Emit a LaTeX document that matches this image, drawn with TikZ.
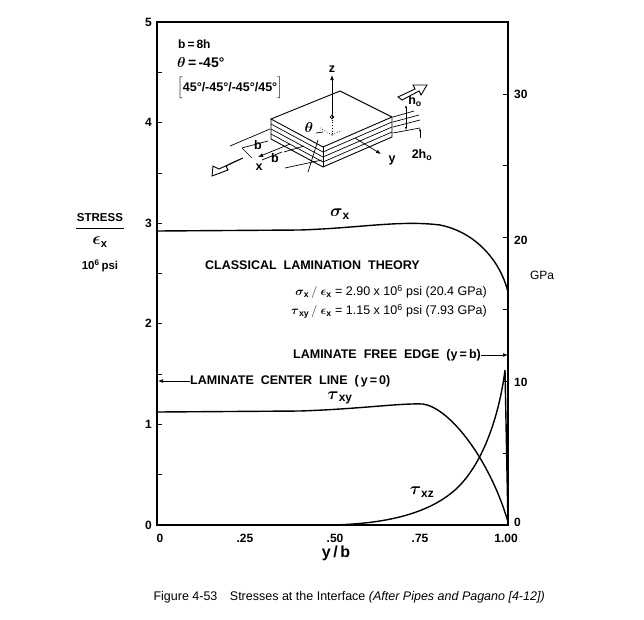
\documentclass[tikz,border=0pt]{standalone}
\usepackage{amsmath}
\usepackage{fontspec}
\setmainfont{Liberation Sans}
\usetikzlibrary{arrows.meta,calc}
\begin{document}
\begin{tikzpicture}[x=1pt,y=-1pt,
  lbl/.style={font=\fontsize{12.5}{14}\selectfont\bfseries,inner sep=0pt},
  num/.style={font=\fontsize{12}{14}\selectfont\bfseries,inner sep=0pt},
  curve/.style={line width=1.4pt},
  frame/.style={line width=1.5pt},
  thin/.style={line width=0.7pt},
  blockarrow/.style={line width=0.9pt,fill=white}]
\useasboundingbox (0,0) rectangle (644,619);
% frame
\draw[frame] (157,22) rectangle (508,525);
\foreach \v in {0.5,1,...,4.5} \draw[thin] (157,{525-100.6*\v}) -- (162,{525-100.6*\v});
\foreach \g in {5,10,...,30} \draw[thin] (508,{525-14.37*\g}) -- (503,{525-14.37*\g});
% left numbers
\foreach \v in {0,...,5} \node[num,anchor=east] (yl\v) at (152,{525-100.6*\v}) {\v};
% right numbers
\node[num,anchor=west] (r0) at (514,522) {0};
\node[num,anchor=west] (r10) at (514,382) {10};
\node[num,anchor=west] (r20) at (514,240) {20};
\node[num,anchor=west] (r30) at (514,94) {30};
\node[font=\fontsize{12}{14}\selectfont] (gpa) at (542,275) {GPa};
% bottom numbers
\node[num] (b0) at (160,538) {0};
\node[num] (b25) at (245,538) {.25};
\node[num] (b50) at (335,538) {.50};
\node[num] (b75) at (420,538) {.75};
\node[num] (b100) at (506,538) {1.00};
\node[font=\fontsize{16}{18}\selectfont\bfseries] (yb) at (336,553) {y\,/\,b};
% left axis label
\node[lbl,font=\fontsize{11.5}{13}\selectfont\bfseries] (stress) at (100,218) {STRESS};
\draw[line width=1pt] (76,228) -- (124,228);
\node[font=\fontsize{16}{18}\selectfont\bfseries] (ex) at (100,242) {$\boldsymbol\epsilon_{\mathbf x}$};
\node[lbl,font=\fontsize{11.5}{13}\selectfont\bfseries] (psi) at (100,266) {10\textsuperscript{6}\,psi};
% curves
\draw[curve] (157,231) -- (300,230) .. controls (360,228) and (400,220) .. (440,225)
  .. controls (475,232) and (500,260) .. (508,292);
\draw[curve] (157,412) -- (300,411) .. controls (360,409) and (400,403) .. (423,404)
  .. controls (450,408) and (490,460) .. (508,522);
\draw[curve] (330,525) .. controls (390,524) and (430,512) .. (455,490)
  .. controls (485,463) and (500,410) .. (505,370) -- (508,525);
\node[font=\fontsize{17}{19}\selectfont\bfseries] (sx) at (340,214) {$\boldsymbol\sigma_{\mathbf x}$};
\node[font=\fontsize{17}{19}\selectfont\bfseries] (txy) at (340,398) {$\boldsymbol\tau_{\mathbf{xy}}$};
\node[font=\fontsize{17}{19}\selectfont\bfseries] (txz) at (422,492) {$\boldsymbol\tau_{\mathbf{xz}}$};
% texts
\node[lbl,anchor=west] (clt) at (205,265) {CLASSICAL\ \ LAMINATION\ \ THEORY};
\node[inner sep=0pt,anchor=east,font=\fontsize{12.5}{15}\selectfont] (l1) at (487,292) {$\boldsymbol\sigma_{\mathbf x}\,/\;\boldsymbol\epsilon_{\mathbf x}$ = 2.90 x 10\textsuperscript{6} psi (20.4 GPa)};
\node[inner sep=0pt,anchor=east,font=\fontsize{12.5}{15}\selectfont] (l2) at (487,311) {$\boldsymbol\tau_{\mathbf{xy}}\,/\;\boldsymbol\epsilon_{\mathbf x}$ = 1.15 x 10\textsuperscript{6} psi (7.93 GPa)};
\node[lbl,anchor=east] (fe) at (481,355) {LAMINATE\ \ FREE\ \ EDGE\ \ (y\,=\,b)};
\coordinate (feR) at (508,355);
\draw[thin,-{Latex[length=5pt]}] (fe.east) -- (feR);
\node[lbl,anchor=west] (cl) at (190,381) {LAMINATE\ \ CENTER\ \ LINE\ \ (\,y\,=\,0)};
\coordinate (clL) at (158,381);
\draw[thin,-{Latex[length=5pt]}] (cl.west) -- (clL);
% inset text
\node[lbl,anchor=west,font=\fontsize{12}{14}\selectfont\bfseries] (b8h) at (178,44) {b\,=\,8h};
\node[lbl,anchor=west,font=\fontsize{14}{16}\selectfont\bfseries] (th) at (177,63) {$\boldsymbol\theta$\,=\,-45\textdegree};
\node[lbl,anchor=west,font=\fontsize{12.5}{14}\selectfont\bfseries] (lay) at (177,88) {$\Bigl[$45\textdegree/-45\textdegree/-45\textdegree/45\textdegree$\Bigr]$};
% laminate block
\coordinate (A) at (271,119); \coordinate (B) at (340,91);
\coordinate (C) at (392,117); \coordinate (D) at (323,147);
\draw[line width=0.9pt,fill=white] (A) -- (B) -- (C) -- (D) -- cycle;
\draw[line width=0.9pt] (A) -- ++(0,20) -- ($(D)+(0,20)$) -- ($(C)+(0,20)$) -- (C) ;
\draw[line width=0.9pt] (D) -- ++(0,20);
\foreach \k in {5,10,15} {
  \draw[thin] ($(A)+(0,\k)$) -- ($(D)+(0,\k)$) -- ($(C)+(0,\k)$);
}
% axes
\coordinate (O) at (332,117); \coordinate (Z) at (332,75);
\draw[fill=white,thin] (O) circle (1.8);
\draw[thin,-{Latex[length=5pt]}] (O) -- (Z);
\node[lbl] (zl) at (332,69) {z};
\draw[thin,dotted] (O) -- (332,135);
\draw[thin,dotted] (332,135) -- (320,128);
\draw[thin,dotted] (332,135) -- (342,130);
\coordinate (Y) at (381,154);
\draw[thin,-{Latex[length=5pt]}] (355,138) -- (Y);
\node[lbl] (yl) at (392,160) {y};
\coordinate (X) at (258,157);
\draw[thin,-{Latex[length=5pt]}] (290,144) -- (X);
\node[lbl] (xl) at (259,167) {x};
\node[font=\fontsize{14}{16}\selectfont\bfseries] (thl) at (309,127) {$\boldsymbol\theta$};
\draw[thin] (316,133) -- (323,132);
% dimension lines b
\draw[thin] (230,146) -- (270,129);
\draw[thin] (242,148) -- (252,158);
\draw[thin] (242,148) -- (268,141);
\node[lbl] (bl1) at (258,145) {b};
\draw[thin] (262,160) -- (282,152);
\node[lbl] (bl2) at (275,158) {b};
\draw[thin] (284,152) -- (304,146);
\draw[thin] (285,168) -- (322,160);
\draw[thin] (308,172) -- (318,140);
% h dimension
\draw[thin] (393,117) -- (414,111);
\draw[thin] (393,122) -- (419,115);
\draw[thin] (393,127) -- (420,120);
\draw[thin] (393,133) -- (420,128);
\draw[thin,{Latex[length=3pt]}-{Latex[length=3pt]}] (406,105) -- (406,130);
\node[lbl] (h0) at (415,101) {h\textsubscript{o}};
\draw[thin,-{Latex[length=3pt]}] (420,138) -- (420,128);
\node[lbl] (h2) at (422,155) {2h\textsubscript{o}};
% block arrows
\draw[blockarrow] (398,97) -- (415,89) -- (413,85) -- (427,85) -- (421,95) -- (419,91) -- (402,100) -- cycle;
\draw[blockarrow] (243,158) -- (226,166) -- (228,170) -- (212,176) -- (213,166) -- (219,169) -- (236,161) -- cycle;
% caption
\node[anchor=west,font=\fontsize{12.5}{15}\selectfont] (cap) at (150,597) {Figure 4-53\quad Stresses at the Interface \textit{(After Pipes and Pagano [4-12])}};
\end{tikzpicture}
\end{document}
